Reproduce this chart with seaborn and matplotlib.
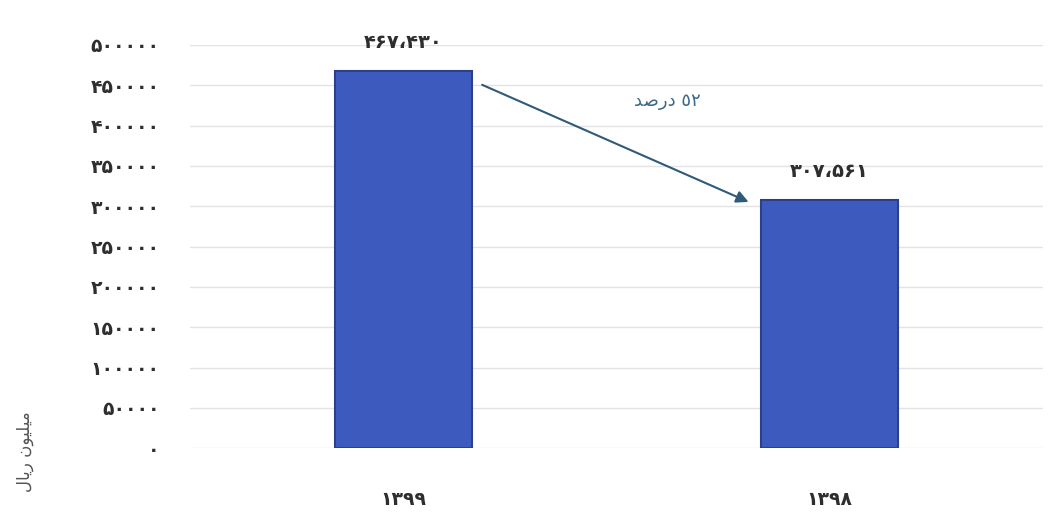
import numpy as np
import pandas as pd
import seaborn as sns
import matplotlib.pyplot as plt
from matplotlib.ticker import FuncFormatter, MultipleLocator

years = ["۱۳۹۹", "۱۳۹۸"]
values = [467430, 307561]
value_labels = ["۴۶۷،۴۳۰", "۳۰۷،۵۶۱"]
change_label = "\uFEAA\uFEBB\uFEAD\uFEA9 ٥٢"   # "٥٢ درصد" in shaped visual order
ylabel = "\uFEDD\uFE8E\uFEF3\uFEAD \uFEE5\uFEEE\uFEF4\uFEE0\uFEF4\uFEE3"  # "میلیون ریال"

fa_digits = str.maketrans("0123456789", "۰۱۲۳۴۵۶۷۸۹")

df = pd.DataFrame({"year": years, "value": values})

sns.set_theme(style="white")
plt.rcParams['font.family'] = ['DejaVu Sans']

fig = plt.figure(figsize=(10.51, 5.23), dpi=100)
ax = fig.add_axes([0.181, 0.143, 0.811, 0.771])

sns.barplot(data=df, x="year", y="value", order=years, color="#3D5BBF",
            width=0.32, edgecolor="#2B3F8C", linewidth=1.5, saturation=1, ax=ax)

ax.set_ylim(0, 500000)
ax.set_xlim(-0.5, 1.5)
ax.yaxis.set_major_locator(MultipleLocator(50000))
ax.yaxis.set_major_formatter(FuncFormatter(lambda v, p: str(int(v)).translate(fa_digits)))
ax.grid(axis="y", color="#E3E3E3", linewidth=1)
ax.set_axisbelow(True)
for s in ax.spines.values():
    s.set_visible(False)
ax.tick_params(axis="both", length=0, labelsize=13.5, labelcolor="#2E2E2E", pad=22)
ax.tick_params(axis="x", pad=30)
for t in ax.get_xticklabels() + ax.get_yticklabels():
    t.set_fontweight("bold")
ax.set_xlabel("")
ax.set_ylabel("")

ax.bar_label(ax.containers[0], labels=value_labels, padding=14,
             fontsize=14, fontweight="bold", color="#2E2E2E")

ax.annotate("", xy=(0.816, 304000), xytext=(0.179, 452000),
            arrowprops=dict(arrowstyle="-|>", color="#2F5A78", lw=1.5, mutation_scale=18))
ax.text(0.62, 431000, change_label, ha="center", va="center", fontsize=13, color="#3C6A88")

fig.text(0.024, 0.06, ylabel, rotation=90, ha="center", va="bottom", fontsize=12, color="#555555")

fig.savefig("out.png", dpi=100)
